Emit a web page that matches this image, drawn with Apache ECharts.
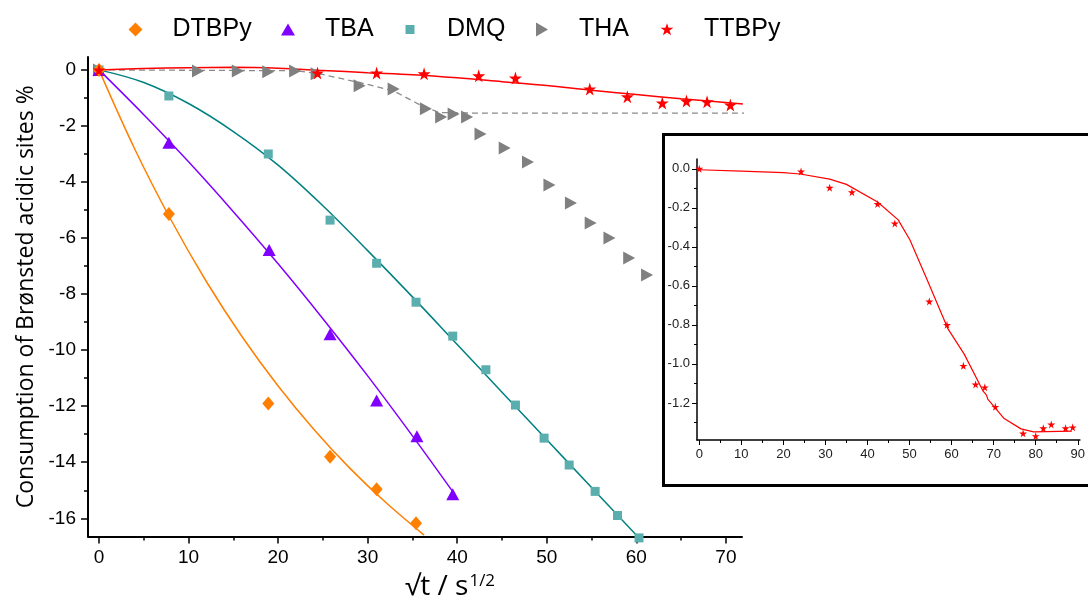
<!DOCTYPE html>
<html>
<head>
<meta charset="utf-8">
<script src="https://cdn.jsdelivr.net/npm/echarts@6/dist/echarts.min.js"></script>
<style>
html,body{margin:0;padding:0;background:#fff;}
#chart{width:1088px;height:606px;}
</style>
</head>
<body>
<div id="chart"></div>
<script>
// ---------- data ----------
const seriesNames = ['DTBPy', 'TBA', 'DMQ', 'THA', 'TTBPy'];

const dtbpyX = [0, 7.8, 18.9, 25.8, 31.0, 35.4];
const dtbpyY = [0, -5.14, -11.9, -13.8, -14.96, -16.18];
const dtbpyFitX = [0, 4, 8, 12, 16, 20, 24, 28, 32, 36.3];
const dtbpyFitY = [0, -2.83, -5.33, -7.56, -9.53, -11.28, -12.83, -14.21, -15.43, -16.6];

const tbaX = [0, 7.8, 19.0, 25.8, 31.0, 35.5, 39.5];
const tbaY = [0, -2.6, -6.43, -9.43, -11.8, -13.07, -15.14];
const tbaFitX = [0, 5, 10, 15, 20, 25, 30, 35, 39.5];
const tbaFitY = [0, -1.6, -3.28, -5.06, -6.92, -8.88, -10.92, -13.06, -15.05];

const dmqX = [0, 7.8, 18.9, 25.8, 31.0, 35.4, 39.5, 43.2, 46.5, 49.7, 52.5, 55.4, 57.9, 60.3];
const dmqY = [0, -0.93, -3.0, -5.36, -6.9, -8.29, -9.5, -10.7, -11.96, -13.14, -14.1, -15.04, -15.9, -16.7];
const dmqFitX = [0, 5, 10, 15, 20, 25, 30, 35, 40, 45, 50, 55, 60.3];
const dmqFitY = [0, -0.45, -1.2, -2.2, -3.4, -4.85, -6.45, -8.1, -9.8, -11.5, -13.2, -14.9, -16.7];

const thaX = [0, 11.05, 15.5, 18.9, 21.9, 24.3, 29.1, 32.9, 36.5, 38.2, 39.6, 41.1, 42.6, 45.3, 47.9, 50.3, 52.7, 54.9, 57.0, 59.2, 61.2];
const thaY = [0, -0.04, -0.04, -0.07, -0.04, -0.14, -0.57, -0.68, -1.39, -1.68, -1.57, -1.68, -2.29, -2.79, -3.29, -4.11, -4.75, -5.46, -6.0, -6.71, -7.32];
const thaGuideX = [0, 22, 24.3, 29.1, 32.9, 36.1, 38.0, 41.6, 74.5];
const thaGuideY = [0, -0.03, -0.12, -0.45, -0.75, -1.29, -1.52, -1.54, -1.54];

const ttbpyX = [0, 24.4, 31.0, 36.3, 42.4, 46.5, 54.8, 59.0, 62.9, 65.6, 67.9, 70.5];
const ttbpyY = [0, -0.11, -0.11, -0.14, -0.21, -0.29, -0.68, -0.96, -1.18, -1.11, -1.14, -1.25];
const ttbpyFitX = [0, 5, 10, 15, 20, 25, 30, 35, 40, 45, 50, 55, 60, 65, 71.9];
const ttbpyFitY = [0, 0.05, 0.08, 0.09, 0.06, -0.02, -0.1, -0.17, -0.28, -0.42, -0.56, -0.73, -0.88, -1.03, -1.22];

// inset
const insetX = [0, 24.2, 31.0, 36.3, 42.4, 46.5, 54.7, 58.9, 62.8, 65.7, 67.9, 70.4, 77.0, 80.0, 81.8, 83.7, 87.1, 88.8];
const insetY = [0, -0.014, -0.097, -0.12, -0.18, -0.28, -0.68, -0.8, -1.01, -1.105, -1.12, -1.22, -1.356, -1.37, -1.33, -1.31, -1.33, -1.325];
const insetFitX = [0, 10, 20, 24, 31, 35, 42.4, 47.3, 50.1, 54, 59.1, 63, 67.5, 68.3, 68.6, 72.5, 76.5, 79.5, 88.6];
const insetFitY = [-0.005, -0.012, -0.02, -0.027, -0.053, -0.08, -0.17, -0.262, -0.365, -0.56, -0.819, -0.95, -1.14, -1.16, -1.18, -1.28, -1.333, -1.348, -1.345];

// tick labels
const mainXTicks = [0, 10, 20, 30, 40, 50, 60, 70];
const mainXMinor = [5, 15, 25, 35, 45, 55, 65];
const mainYTicks = [0, -2, -4, -6, -8, -10, -12, -14, -16];
const mainYMinor = [-1, -3, -5, -7, -9, -11, -13, -15];
const insetXTicks = [0, 10, 20, 30, 40, 50, 60, 70, 80, 90];
const insetXMinor = [5, 15, 25, 35, 45, 55, 65, 75, 85];
const insetYTicks = [0, -0.2, -0.4, -0.6, -0.8, -1.0, -1.2];
const insetYMinor = [-0.1, -0.3, -0.5, -0.7, -0.9, -1.1, -1.3];

// ---------- helpers ----------
const zip = (xs, ys) => xs.map((x, i) => [x, ys[i]]);
const STAR = 'path://M50,0L61,35L98,35L68,57L79,91L50,70L21,91L32,57L2,35L39,35Z';
const colors = {
  DTBPy: '#FF8000', TBA: '#8000FF', DMQ: '#5AAEAE', DMQline: '#008080', THA: '#808080', TTBPy: '#FF0000'
};
const FONT = 'Liberation Sans';

function fitLine(name, xs, ys, color, extra) {
  return Object.assign({
    name: name, type: 'line', data: zip(xs, ys), smooth: 0.35, showSymbol: false, symbol: 'none',
    lineStyle: { color: color, width: 1.5 }, itemStyle: { color: color }, z: 2, silent: true, animation: false
  }, extra || {});
}
function points(name, xs, ys, symbol, size, color, extra) {
  return Object.assign({
    name: name, type: 'scatter', data: zip(xs, ys), symbol: symbol, symbolSize: size,
    itemStyle: { color: color, opacity: 1 }, z: 3, clip: false, animation: false
  }, extra || {});
}

const legendIcons = {
  DTBPy: 'path://M7,0L14,7L7,14L0,7Z',
  TBA: 'path://M0,0M14,14M7,1L14,13L0,13Z',
  DMQ: 'path://M0,0M14,14M2.5,2.5L11.5,2.5L11.5,11.5L2.5,11.5Z',
  THA: 'path://M0,0M14,14M1,0L13,7L1,14Z',
  TTBPy: 'path://M0,0M100,100M50,5L61,38L96,38L68,58L79,91L50,71L21,91L32,58L4,38L39,38Z'
};
const legendLeft = [123.5, 276, 398, 530, 655];

const mainAxisCommon = {
  axisLine: { show: true, onZero: false, lineStyle: { color: '#000', width: 2 } },
  splitLine: { show: false }
};

const option = {
  backgroundColor: '#fff',
  animation: false,
  legend: seriesNames.map((n, i) => ({
    data: [{ name: n, icon: legendIcons[n] }],
    left: legendLeft[i], top: 12, itemWidth: 64, itemHeight: 14, itemGap: 5,
    selectedMode: false,
    textStyle: { fontSize: 25, fontFamily: FONT, color: '#000' }
  })),
  grid: [
    { left: 88, right: 346, top: 57, bottom: 69, containLabel: false },
    { left: 697, right: 5, top: 159, bottom: 166, containLabel: false }
  ],
  xAxis: [
    Object.assign({}, mainAxisCommon, {
      type: 'value', gridIndex: 0, min: -1.23, max: 71.8, position: 'bottom',
      name: '{a|√t / s}{b|1/2}', nameLocation: 'middle', nameGap: 36,
      nameTextStyle: {
        padding: [0, 0, 0, 70],
        rich: {
          a: { fontSize: 28, fontFamily: 'Open Sans', color: '#000' },
          b: { fontSize: 17, fontFamily: 'Open Sans', color: '#000', verticalAlign: 'top', padding: [0, 0, 12, 1] }
        }
      },
      axisTick: { show: true, length: 7, customValues: mainXTicks, lineStyle: { color: '#000', width: 1.5 } },
      axisLabel: { show: true, customValues: mainXTicks, fontSize: 19, fontFamily: FONT, color: '#000', margin: 12 }
    }),
    {
      type: 'value', gridIndex: 0, min: -1.23, max: 71.8, position: 'bottom', offset: 0,
      axisLine: { show: false, onZero: false }, splitLine: { show: false },
      axisTick: { show: true, length: 4, customValues: mainXMinor, lineStyle: { color: '#000', width: 1.5 } },
      axisLabel: { show: false }
    },
    {
      type: 'value', gridIndex: 1, min: -0.54, max: 90.5, position: 'bottom', z: 20,
      axisLine: { show: true, onZero: false, lineStyle: { color: '#000', width: 1.5 } },
      splitLine: { show: false },
      axisTick: { show: true, length: 5, customValues: insetXTicks, lineStyle: { color: '#000', width: 1 } },
      axisLabel: { show: true, customValues: insetXTicks, fontSize: 13, fontFamily: FONT, color: '#222', margin: 8 }
    },
    {
      type: 'value', gridIndex: 1, min: -0.54, max: 90.5, position: 'bottom', offset: 0, z: 20,
      axisLine: { show: false, onZero: false }, splitLine: { show: false },
      axisTick: { show: true, length: 3, customValues: insetXMinor, lineStyle: { color: '#000', width: 1 } },
      axisLabel: { show: false }
    }
  ],
  yAxis: [
    Object.assign({}, mainAxisCommon, {
      type: 'value', gridIndex: 0, min: -16.65, max: 0.46, position: 'left',
      name: 'Consumption of Brønsted acidic sites %', nameLocation: 'middle', nameGap: 50, nameRotate: 90,
      nameTextStyle: { fontSize: 23, fontFamily: 'Open Sans', color: '#000' },
      axisTick: { show: true, length: 7, customValues: mainYTicks, lineStyle: { color: '#000', width: 1.5 } },
      axisLabel: { show: true, customValues: mainYTicks, fontSize: 19, fontFamily: FONT, color: '#000', margin: 12 }
    }),
    {
      type: 'value', gridIndex: 0, min: -16.65, max: 0.46, position: 'left', offset: 0,
      axisLine: { show: false, onZero: false }, splitLine: { show: false },
      axisTick: { show: true, length: 4, customValues: mainYMinor, lineStyle: { color: '#000', width: 1.5 } },
      axisLabel: { show: false }
    },
    {
      type: 'value', gridIndex: 1, min: -1.39, max: 0.05, position: 'left', z: 20,
      axisLine: { show: true, onZero: false, lineStyle: { color: '#000', width: 1.5 } },
      splitLine: { show: false },
      axisTick: { show: true, length: 5, customValues: insetYTicks, lineStyle: { color: '#000', width: 1 } },
      axisLabel: { show: true, customValues: insetYTicks, fontSize: 13, fontFamily: FONT, color: '#222', margin: 7,
        formatter: v => Number(v).toFixed(1) }
    },
    {
      type: 'value', gridIndex: 1, min: -1.39, max: 0.05, position: 'left', offset: 0, z: 20,
      axisLine: { show: false, onZero: false }, splitLine: { show: false },
      axisTick: { show: true, length: 3, customValues: insetYMinor, lineStyle: { color: '#000', width: 1 } },
      axisLabel: { show: false }
    }
  ],
  graphic: [
    { type: 'rect', z: 10, silent: true,
      shape: { x: 663.5, y: 134.5, width: 440, height: 351 },
      style: { fill: '#fff', stroke: '#000', lineWidth: 3 } }
  ],
  series: [
    fitLine('DTBPy fit', dtbpyFitX, dtbpyFitY, '#FF7F00'),
    fitLine('TBA fit', tbaFitX, tbaFitY, '#8000FF'),
    fitLine('DMQ fit', dmqFitX, dmqFitY, colors.DMQline),
    fitLine('THA guide', thaGuideX, thaGuideY, '#8a8a8a', { smooth: false, clip: false,
      lineStyle: { color: '#8a8a8a', width: 1.3, type: [6, 4] } }),
    fitLine('TTBPy fit', ttbpyFitX, ttbpyFitY, '#FF0000'),
    points('THA', thaX, thaY, 'triangle', [13, 12], colors.THA, { symbolRotate: -90 }),
    points('DMQ', dmqX, dmqY, 'rect', 9, colors.DMQ),
    points('TBA', tbaX, tbaY, 'triangle', [13, 12], colors.TBA),
    points('DTBPy', dtbpyX, dtbpyY, 'diamond', [12, 14], colors.DTBPy),
    points('TTBPy', ttbpyX, ttbpyY, STAR, 13, colors.TTBPy),
    // inset
    fitLine('inset fit', insetFitX, insetFitY, '#FF0000', { smooth: false, xAxisIndex: 2, yAxisIndex: 2, z: 20,
      lineStyle: { color: '#FF0000', width: 1.2 } }),
    points('inset TTBPy', insetX, insetY, STAR, 8, colors.TTBPy, { xAxisIndex: 2, yAxisIndex: 2, z: 21 })
  ]
};

const chart = echarts.init(document.getElementById('chart'), null, { renderer: 'canvas' });
chart.setOption(option);
</script>
</body>
</html>
